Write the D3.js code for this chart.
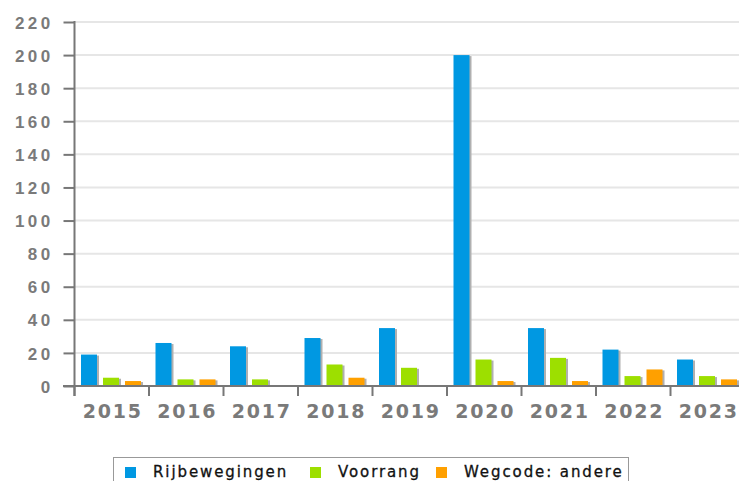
<!DOCTYPE html>
<html>
<head>
<meta charset="utf-8">
<script src="https://cdn.jsdelivr.net/npm/d3@7"></script>
<style>
  body { margin: 0; background: #fff; }
  svg { display: block; font-family: "DejaVu Sans", sans-serif; }
</style>
</head>
<body>
<div id="chart"></div>
<script>
var years = ["2015", "2016", "2017", "2018", "2019", "2020", "2021", "2022", "2023"];
var series = ["Rijbewegingen", "Voorrang", "Wegcode: andere"];
var rijbewegingen = [19, 26, 24, 29, 35, 200, 35, 22, 16];
var voorrang = [5, 4, 4, 13, 11, 16, 17, 6, 6];
var wegcodeAndere = [3, 4, 0, 5, 0, 3, 3, 10, 4];
var yTicks = [0, 20, 40, 60, 80, 100, 120, 140, 160, 180, 200, 220];
var colors = ["#0098e2", "#9ddf00", "#ffa000"];

var width = 739, height = 481;

// rows: one per year, one value per series
var data = years.map(function(y, i) {
    return { year: y, values: [rijbewegingen[i], voorrang[i], wegcodeAndere[i]] };
});

var xScale = d3.scaleBand()
    .domain(years)
    .range([74.5, 745]);

var xInner = d3.scaleBand()
    .domain(d3.range(series.length))
    .range([6.5, 72.5]);

var yScale = d3.scaleLinear()
    .domain([0, 220])
    .range([386, 22]);

var svg = d3.select('#chart').append('svg')
    .attr("width", width)
    .attr("height", height);

// grid
svg.append("g").selectAll("line")
    .data(yTicks.filter(function(t) { return t > 0; }))
    .enter().append("line")
    .attr("x1", 75).attr("x2", width)
    .attr("y1", function(d) { return yScale(d); })
    .attr("y2", function(d) { return yScale(d); })
    .attr("stroke", "#e6e6e6")
    .attr("stroke-width", 2);

// y axis
var yAxis = svg.append("g")
    .attr("transform", "translate(74.5,0)")
    .call(d3.axisLeft(yScale).tickValues(yTicks).tickSize(11).tickPadding(10));
yAxis.select(".domain").remove();
yAxis.selectAll(".tick line").attr("stroke", "#777").attr("stroke-width", 2);
yAxis.selectAll(".tick text")
    .attr("fill", "#7a7a7a")
    .style("font-size", "17px")
    .style("font-weight", "bold")
    .style("letter-spacing", "3.4px")
    .attr("dy", "0.36em");

// bars
var groups = svg.append("g").selectAll("g")
    .data(data)
    .enter().append("g")
    .attr("transform", function(d) { return "translate(" + xScale(d.year) + ",0)"; });

var barW = xInner.bandwidth() - 6;

// shadows
groups.selectAll("rect.shadow")
    .data(function(d) { return d.values; })
    .enter().append("rect")
    .attr("class", "shadow")
    .attr("x", function(d, i) { return xInner(i) + 2; })
    .attr("y", function(d) { return yScale(d) + 1; })
    .attr("width", barW)
    .attr("height", function(d) { return d > 0 ? yScale(0) - yScale(d) - 1 : 0; })
    .attr("fill", "#b0b0b0");

groups.selectAll("rect.bar")
    .data(function(d) { return d.values; })
    .enter().append("rect")
    .attr("class", "bar")
    .attr("x", function(d, i) { return xInner(i); })
    .attr("y", function(d) { return yScale(d); })
    .attr("width", barW)
    .attr("height", function(d) { return yScale(0) - yScale(d); })
    .attr("fill", function(d, i) { return colors[i]; });

// x axis
var xAxis = svg.append("g")
    .attr("transform", "translate(0,386)");
xAxis.append("line")
    .attr("x1", 63).attr("x2", width)
    .attr("stroke", "#777").attr("stroke-width", 2);
xAxis.selectAll("line.tick")
    .data(years)
    .enter().append("line")
    .attr("class", "tick")
    .attr("x1", function(d) { return xScale(d); })
    .attr("x2", function(d) { return xScale(d); })
    .attr("y1", 0).attr("y2", 10)
    .attr("stroke", "#777").attr("stroke-width", 2);
xAxis.selectAll("text")
    .data(years)
    .enter().append("text")
    .attr("x", function(d) { return xScale(d) + xScale.bandwidth() / 2 + 1; })
    .attr("y", 32)
    .attr("text-anchor", "middle")
    .attr("fill", "#7a7a7a")
    .style("font-size", "19px")
    .style("font-weight", "bold")
    .style("letter-spacing", "1.8px")
    .text(function(d) { return d; });

// y axis line
svg.append("line")
    .attr("x1", 74.5).attr("x2", 74.5)
    .attr("y1", 21).attr("y2", 396)
    .attr("stroke", "#777").attr("stroke-width", 2);

// legend
var legend = svg.append("g");
legend.append("rect")
    .attr("x", 113.5).attr("y", 457.5)
    .attr("width", 515).attr("height", 30)
    .attr("fill", "#fff")
    .attr("stroke", "#999");

var legendX = [125, 310, 436];
var items = legend.selectAll("g.item")
    .data(series)
    .enter().append("g")
    .attr("class", "item")
    .attr("transform", function(d, i) { return "translate(" + legendX[i] + ",0)"; });
items.append("rect")
    .attr("x", 0).attr("y", 467)
    .attr("width", 11).attr("height", 11)
    .attr("fill", function(d, i) { return colors[i]; });
items.append("text")
    .attr("x", 28).attr("y", 477)
    .attr("fill", "#111")
    .style("font-size", "15px")
    .style("letter-spacing", "1.9px")
    .style("stroke", "#111")
    .style("stroke-width", "0.3px")
    .text(function(d) { return d; });
</script>
</body>
</html>
